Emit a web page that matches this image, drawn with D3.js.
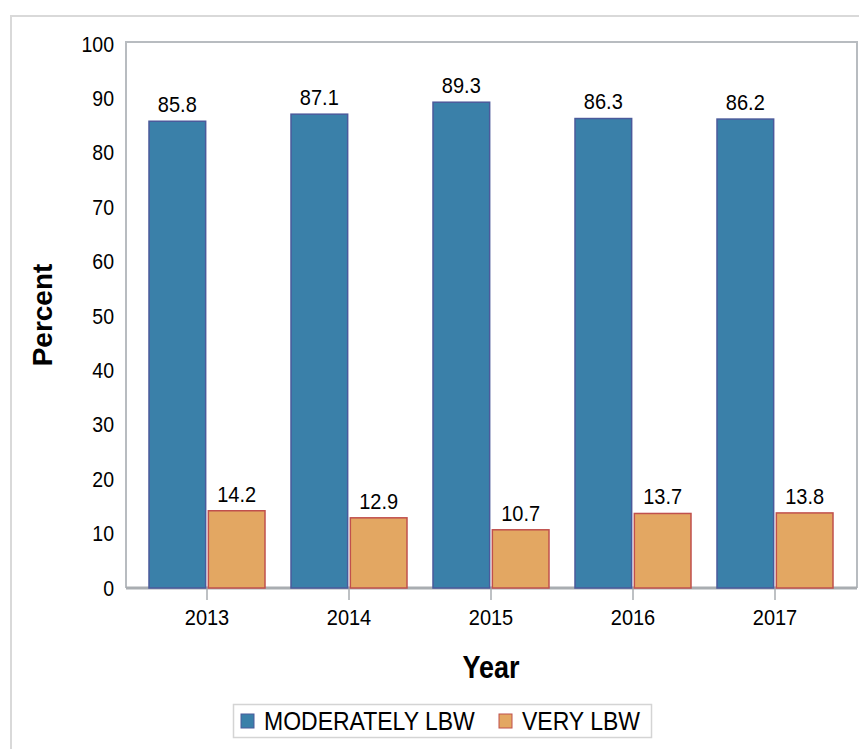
<!DOCTYPE html>
<html><head><meta charset="utf-8">
<script src="https://cdn.jsdelivr.net/npm/d3@7"></script>
<style>body{margin:0;background:#fff;}svg{display:block;font-family:Arial,"Liberation Sans",sans-serif;}</style>
</head><body><svg id="c" width="859" height="749"></svg>
<script>
const years = ["2013","2014","2015","2016","2017"];
const moderate = [85.8, 87.1, 89.3, 86.3, 86.2];
const very = [14.2, 12.9, 10.7, 13.7, 13.8];
const seriesNames = ["MODERATELY LBW", "VERY LBW"];
const yTicks = [0,10,20,30,40,50,60,70,80,90,100];

const svg = d3.select("#c");
const fills = ["#3a80a9", "#e3a762"];
const strokes = ["#4b5a9b", "#c0504d"];
const FF = "Arial,'Liberation Sans',sans-serif";

// outer frame
svg.append("rect").attr("x",11).attr("y",16).attr("width",860).attr("height",760)
  .attr("fill","none").attr("stroke","#d9d9d9").attr("stroke-width",2);

const L=126, R=857, T=42, B=588;
const y = d3.scaleLinear().domain([0,100]).range([B, 44]);
const x = d3.scaleBand().domain(years).range([136, 846]).paddingInner(26/142).paddingOuter(13/142);
const xs = d3.scaleBand().domain(seriesNames).range([0, x.bandwidth()]).paddingInner(0.045);

// plot frame
svg.append("path").attr("d",`M${L},${B}V${T}H${R}V${B}`).attr("fill","none").attr("stroke","#b8bcc0").attr("stroke-width",2);

// y axis
const ya = svg.append("g").attr("transform",`translate(${L},0)`)
  .call(d3.axisLeft(y).tickValues(yTicks).tickSize(0).tickPadding(12));
ya.select(".domain").remove();
ya.selectAll("text").attr("font-size",19.5).attr("fill","#000").attr("font-family",FF).classed("st",true);

// x axis
const xa = svg.append("g").attr("transform",`translate(0,${B})`)
  .call(d3.axisBottom(x).tickSize(12).tickPadding(10));
xa.select(".domain").attr("d",`M${L},0H${R}`).attr("stroke","#a9adb1").attr("stroke-width",3);
xa.selectAll(".tick line").attr("stroke","#a9adb1").attr("stroke-width",1.5);
xa.selectAll("text").attr("font-size",20).attr("fill","#000").attr("font-family",FF).classed("st",true);

const data = years.map((yr,i)=>({yr, vals:[moderate[i], very[i]]}));
const g = svg.selectAll(".grp").data(data).join("g").attr("transform",d=>`translate(${x(d.yr)},0)`);
g.selectAll("rect").data(d=>d.vals.map((v,k)=>({v,k}))).join("rect")
  .attr("x",d=>xs(seriesNames[d.k])).attr("width",xs.bandwidth())
  .attr("y",d=>y(d.v)).attr("height",d=>B-y(d.v))
  .attr("fill",d=>fills[d.k]).attr("stroke",d=>strokes[d.k]).attr("stroke-width",1.5);
g.selectAll("text").data(d=>d.vals.map((v,k)=>({v,k}))).join("text").classed("st",true)
  .attr("x",d=>xs(seriesNames[d.k])+xs.bandwidth()/2).attr("y",d=>y(d.v)-10)
  .attr("text-anchor","middle").attr("font-size",20).text(d=>d.v.toFixed(1));

// axis titles
svg.append("text").classed("st",true).attr("x",491).attr("y",677).attr("text-anchor","middle")
  .attr("font-size",27).attr("font-weight","bold").text("Year");
svg.append("text").attr("transform","translate(52,315) rotate(-90)").attr("text-anchor","middle")
  .attr("font-size",28).attr("font-weight","bold").text("Percent");

// legend
svg.append("rect").attr("x",233.5).attr("y",704.5).attr("width",418).attr("height",33)
  .attr("fill","#fff").attr("stroke","#d4d4d4").attr("stroke-width",1.5);
const lx = [241, 499];
const lg = svg.selectAll(".lg").data(seriesNames).join("g").attr("transform",(d,i)=>`translate(${lx[i]},714)`);
lg.append("rect").attr("width",13).attr("height",14).attr("fill",(d,i)=>fills[i]).attr("stroke",(d,i)=>strokes[i]).attr("stroke-width",1);
lg.append("text").classed("st",true).attr("x",23).attr("y",15).attr("font-size",23).text(d=>d);

// vertical stretch of horizontal texts (reference glyphs are taller than wide)
const K = 1.13;
svg.selectAll("text.st").each(function(){
  const b = this.getBBox();
  const cy = b.y + b.height/2;
  d3.select(this).attr("transform",`translate(0,${cy}) scale(1,${K}) translate(0,${-cy})`);
});
</script></body></html>
